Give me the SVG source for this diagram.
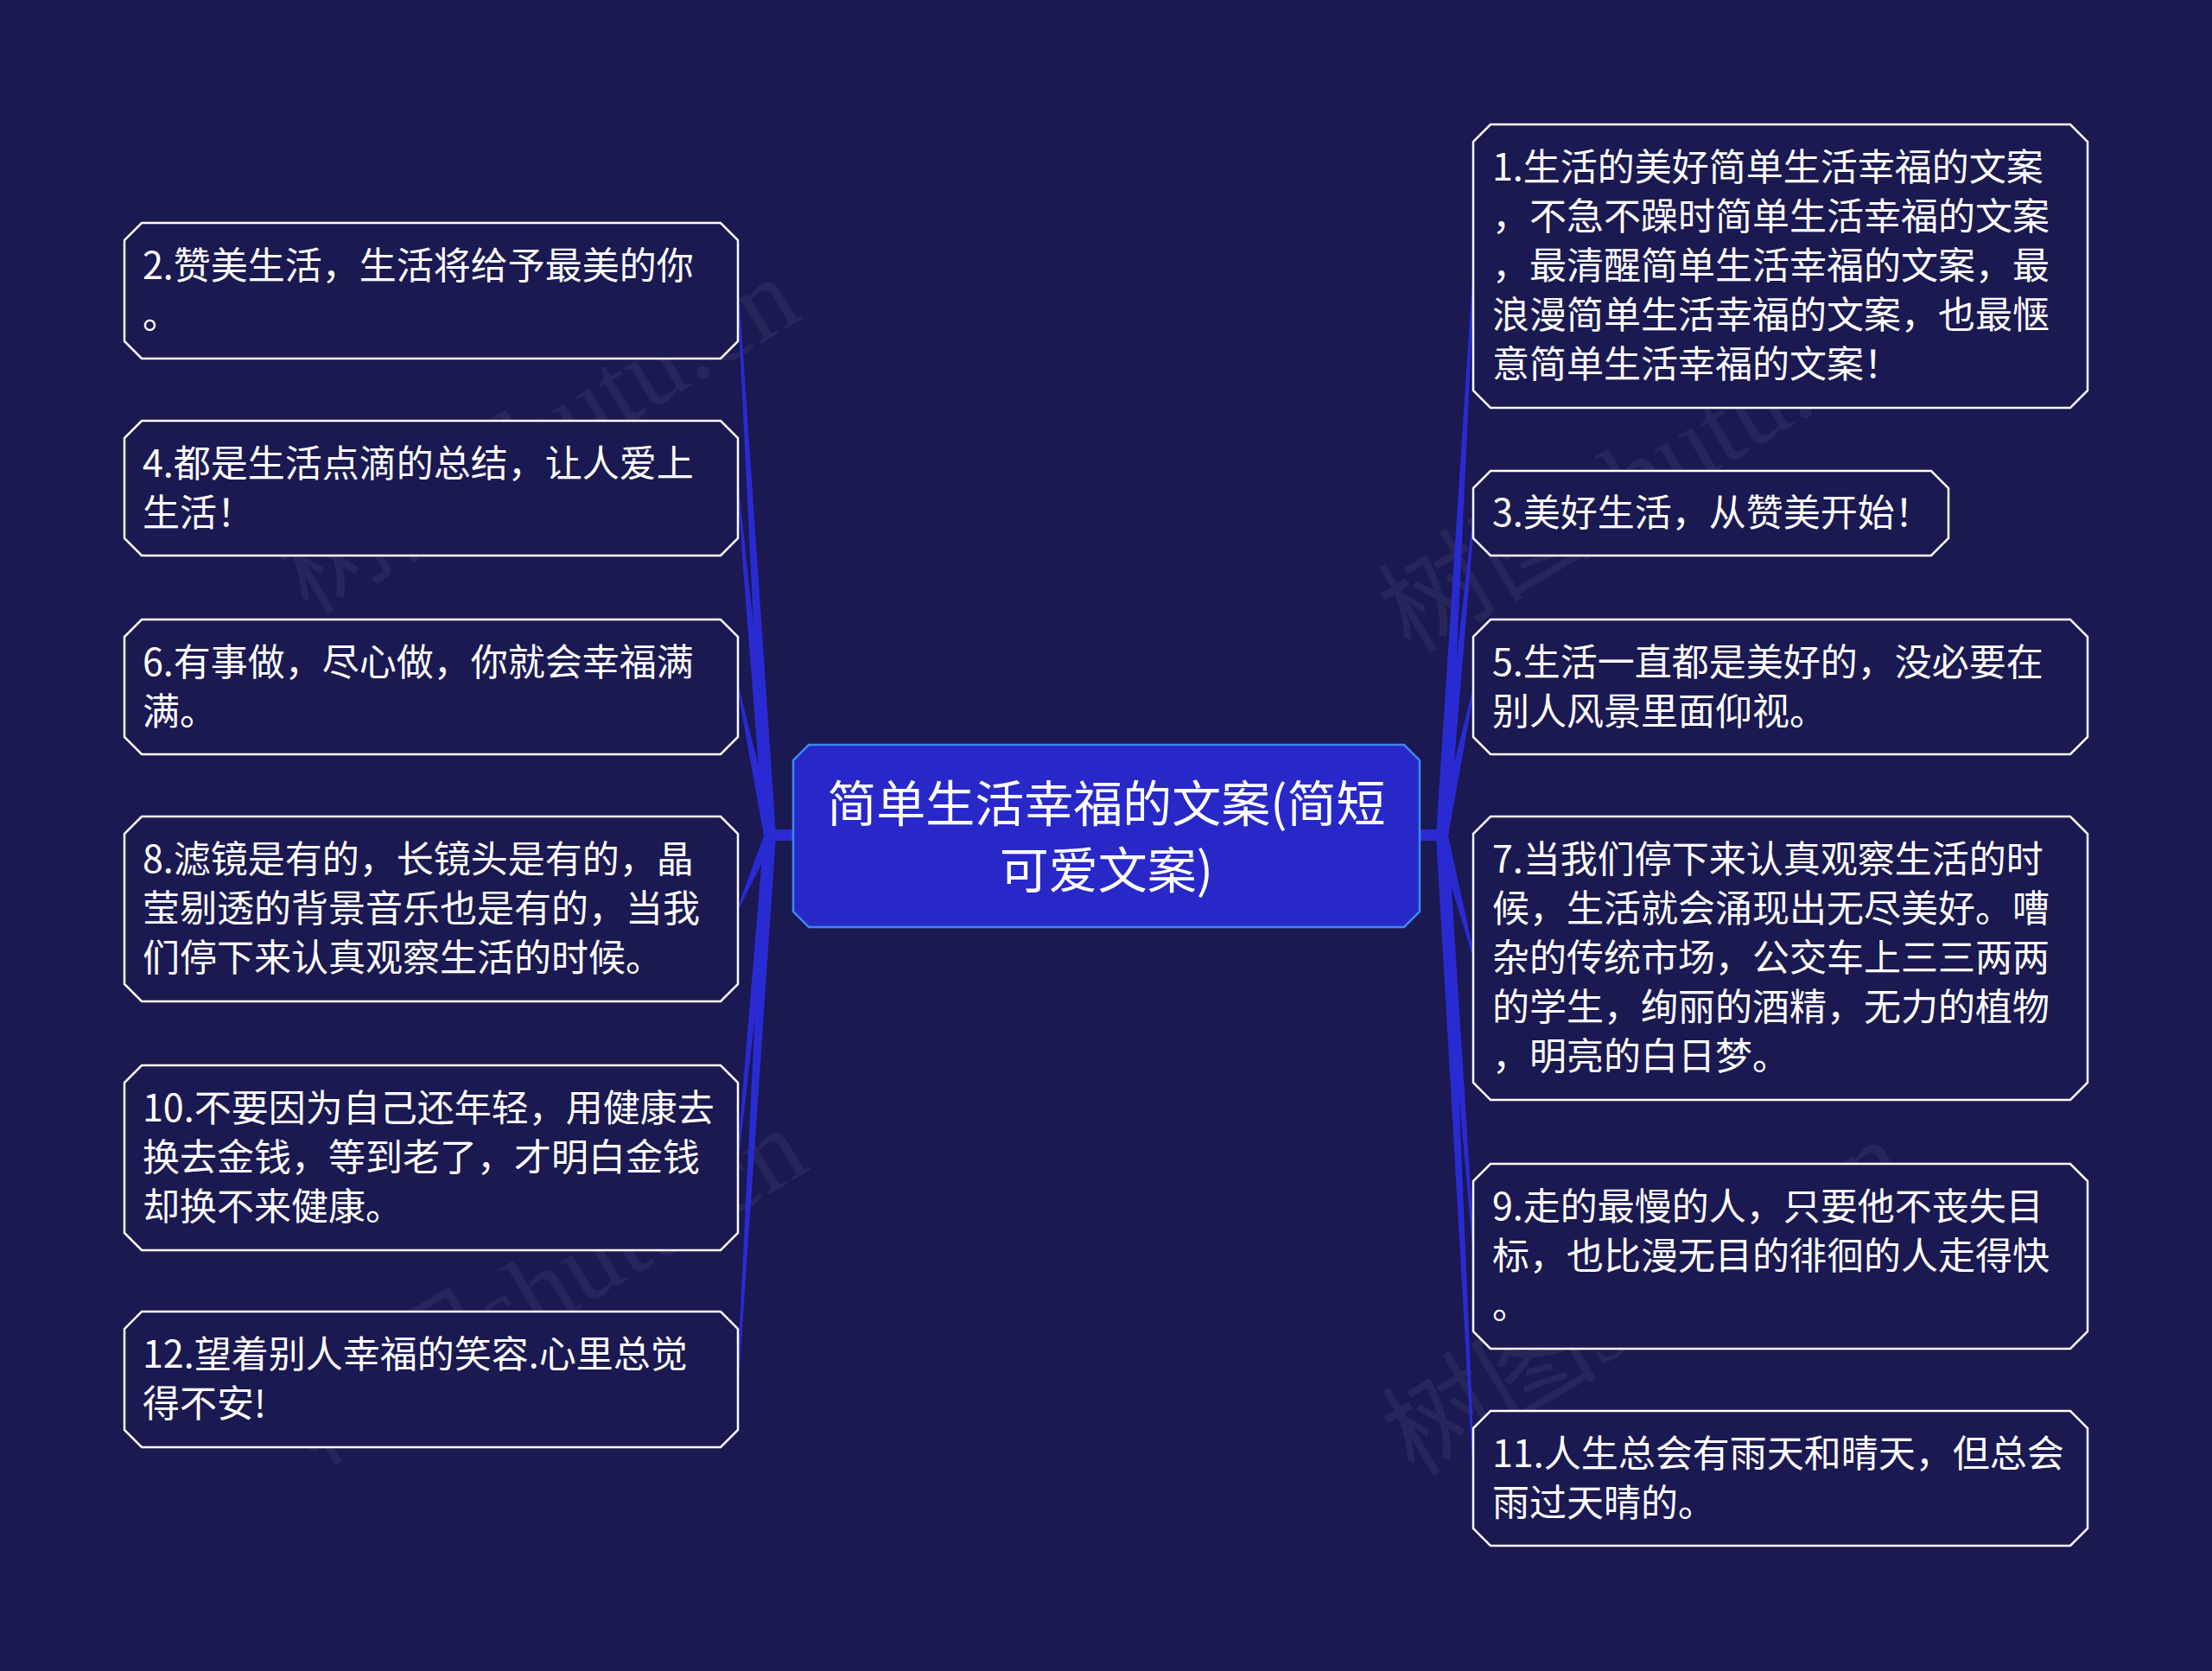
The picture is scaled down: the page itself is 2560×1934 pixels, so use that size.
<svg xmlns="http://www.w3.org/2000/svg" width="2560" height="1934" viewBox="0 0 2560 1934">
<style>
.bg{fill:#1a1951}
.node{fill:#1a1951;stroke:#ffffff;stroke-width:2.5}
.root{fill:#2828c8;stroke:#3f86ec;stroke-width:2.5}
.t{font-family:"Noto Sans CJK SC","Noto Sans",sans-serif;font-size:43px;fill:#ffffff}
.rt{font-family:"Noto Sans CJK SC","Noto Sans",sans-serif;font-size:57px;fill:#ffffff;text-anchor:middle}
.link{fill:#2a2ad2}
.wm{font-family:"Liberation Serif","Noto Sans CJK SC",serif;font-size:125px;fill:#ffffff;fill-opacity:0.06;text-anchor:middle}
</style>
<rect class="bg" x="0" y="0" width="2560" height="1934"/>
<g id="watermarks">
<text class="wm" transform="translate(644,540) rotate(-31)">树图shutu.cn</text>
<text class="wm" transform="translate(653,1525) rotate(-31)">树图shutu.cn</text>
<text class="wm" transform="translate(1920,585) rotate(-31)">树图shutu.cn</text>
<text class="wm" transform="translate(1924,1538) rotate(-31)">树图shutu.cn</text>
</g>
<g id="connectors">
<rect class="link" x="894" y="960" width="26" height="13"/>
<rect class="link" x="1641" y="960" width="26" height="13"/>
<polygon class="link" points="884,967 898,967 855,336 853,336"/>
<polygon class="link" points="884,967 898,967 855,565 853,565"/>
<polygon class="link" points="884,967 898,967 855,795 853,795"/>
<polygon class="link" points="884,967 898,967 855,1052 853,1052"/>
<polygon class="link" points="884,967 898,967 855,1340 853,1340"/>
<polygon class="link" points="884,967 898,967 855,1596 853,1596"/>
<polygon class="link" points="1662,967 1676,967 1707,308 1705,308"/>
<polygon class="link" points="1662,967 1676,967 1707,594 1705,594"/>
<polygon class="link" points="1662,967 1676,967 1707,795 1705,795"/>
<polygon class="link" points="1662,967 1676,967 1707,1109 1705,1109"/>
<polygon class="link" points="1662,967 1676,967 1707,1454 1705,1454"/>
<polygon class="link" points="1662,967 1676,967 1707,1711 1705,1711"/>
</g>
<g id="root">
<path class="root" d="M936,862 H1625 L1643,880 V1055 L1625,1073 H936 L918,1055 V880 Z"/>
<text class="rt" x="1280.5" y="951">简单生活幸福的文案(简短</text>
<text class="rt" x="1280.5" y="1028">可爱文案)</text>
</g>
<g id="node2">
<path class="node" d="M164,258 H834 L854,278 V395 L834,415 H164 L144,395 V278 Z"/>
<text class="t" x="165" y="323">2.赞美生活，生活将给予最美的你</text>
<text class="t" x="165" y="380">。</text>
</g>
<g id="node4">
<path class="node" d="M164,487 H834 L854,507 V623 L834,643 H164 L144,623 V507 Z"/>
<text class="t" x="165" y="551.5">4.都是生活点滴的总结，让人爱上</text>
<text class="t" x="165" y="608.5">生活！</text>
</g>
<g id="node6">
<path class="node" d="M164,717 H834 L854,737 V853 L834,873 H164 L144,853 V737 Z"/>
<text class="t" x="165" y="781.5">6.有事做，尽心做，你就会幸福满</text>
<text class="t" x="165" y="838.5">满。</text>
</g>
<g id="node8">
<path class="node" d="M164,945 H834 L854,965 V1139 L834,1159 H164 L144,1139 V965 Z"/>
<text class="t" x="165" y="1010">8.滤镜是有的，长镜头是有的，晶</text>
<text class="t" x="165" y="1067">莹剔透的背景音乐也是有的，当我</text>
<text class="t" x="165" y="1124">们停下来认真观察生活的时候。</text>
</g>
<g id="node10">
<path class="node" d="M164,1233 H834 L854,1253 V1427 L834,1447 H164 L144,1427 V1253 Z"/>
<text class="t" x="165" y="1298">10.不要因为自己还年轻，用健康去</text>
<text class="t" x="165" y="1355">换去金钱，等到老了，才明白金钱</text>
<text class="t" x="165" y="1412">却换不来健康。</text>
</g>
<g id="node12">
<path class="node" d="M164,1518 H834 L854,1538 V1655 L834,1675 H164 L144,1655 V1538 Z"/>
<text class="t" x="165" y="1583">12.望着别人幸福的笑容.心里总觉</text>
<text class="t" x="165" y="1640">得不安!</text>
</g>
<g id="node1">
<path class="node" d="M1725,144 H2396 L2416,164 V452 L2396,472 H1725 L1705,452 V164 Z"/>
<text class="t" x="1727" y="209">1.生活的美好简单生活幸福的文案</text>
<text class="t" x="1727" y="266">，不急不躁时简单生活幸福的文案</text>
<text class="t" x="1727" y="323">，最清醒简单生活幸福的文案，最</text>
<text class="t" x="1727" y="380">浪漫简单生活幸福的文案，也最惬</text>
<text class="t" x="1727" y="437">意简单生活幸福的文案！</text>
</g>
<g id="node3">
<path class="node" d="M1725,545 H2235 L2255,565 V623 L2235,643 H1725 L1705,623 V565 Z"/>
<text class="t" x="1727" y="609">3.美好生活，从赞美开始！</text>
</g>
<g id="node5">
<path class="node" d="M1725,717 H2396 L2416,737 V853 L2396,873 H1725 L1705,853 V737 Z"/>
<text class="t" x="1727" y="781.5">5.生活一直都是美好的，没必要在</text>
<text class="t" x="1727" y="838.5">别人风景里面仰视。</text>
</g>
<g id="node7">
<path class="node" d="M1725,945 H2396 L2416,965 V1253 L2396,1273 H1725 L1705,1253 V965 Z"/>
<text class="t" x="1727" y="1010">7.当我们停下来认真观察生活的时</text>
<text class="t" x="1727" y="1067">候，生活就会涌现出无尽美好。嘈</text>
<text class="t" x="1727" y="1124">杂的传统市场，公交车上三三两两</text>
<text class="t" x="1727" y="1181">的学生，绚丽的酒精，无力的植物</text>
<text class="t" x="1727" y="1238">，明亮的白日梦。</text>
</g>
<g id="node9">
<path class="node" d="M1725,1347 H2396 L2416,1367 V1541 L2396,1561 H1725 L1705,1541 V1367 Z"/>
<text class="t" x="1727" y="1412">9.走的最慢的人，只要他不丧失目</text>
<text class="t" x="1727" y="1469">标，也比漫无目的徘徊的人走得快</text>
<text class="t" x="1727" y="1526">。</text>
</g>
<g id="node11">
<path class="node" d="M1725,1633 H2396 L2416,1653 V1769 L2396,1789 H1725 L1705,1769 V1653 Z"/>
<text class="t" x="1727" y="1697.5">11.人生总会有雨天和晴天，但总会</text>
<text class="t" x="1727" y="1754.5">雨过天晴的。</text>
</g>
</svg>
